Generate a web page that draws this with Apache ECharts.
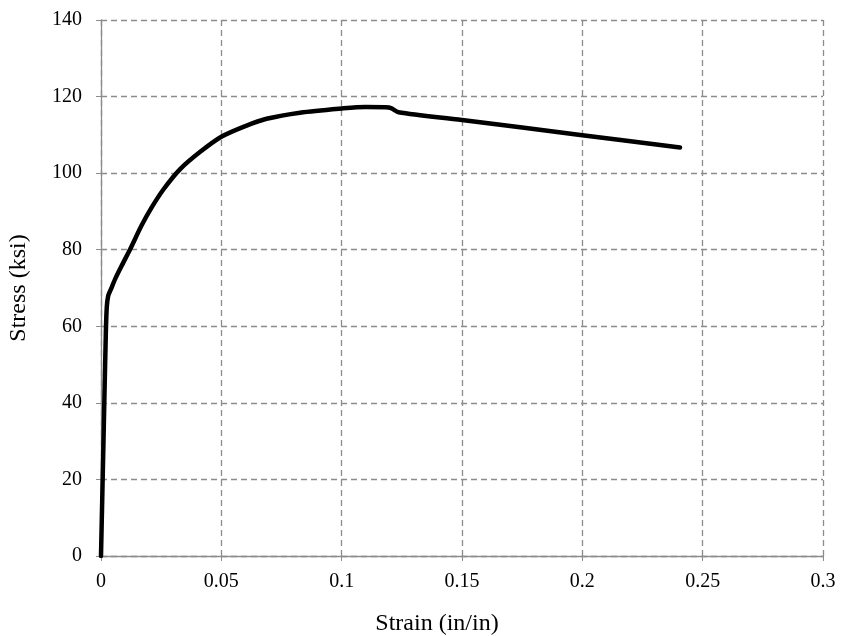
<!DOCTYPE html>
<html>
<head>
<meta charset="utf-8">
<title>Stress-Strain</title>
<script src="https://cdn.jsdelivr.net/npm/echarts@6/dist/echarts.min.js"></script>
<style>
	html, body { margin: 0; padding: 0; background: #fff; }
	#e_chart_1 { width: 841px; height: 636px; }
</style>
</head>
<body>
<div id="e_chart_1"></div>
<script>
/*Stress-strain curve*/
"use strict";

/*****Data start*****/
var strain = [0, 0.0010, 0.0020, 0.0024, 0.0030, 0.0040, 0.0060, 0.0090, 0.0120, 0.0170, 0.0210, 0.0260, 0.0328, 0.0411, 0.0500, 0.0600, 0.0688, 0.0827, 0.1000, 0.1100, 0.1180, 0.1205, 0.1236, 0.1500, 0.2000, 0.2406];
var stress = [0, 29, 58, 65, 68, 69.5, 72.5, 76.3, 80, 86.5, 91, 95.8, 101, 105.5, 109.5, 112.3, 114.2, 115.8, 116.9, 117.3, 117.2, 117.0, 115.9, 113.9, 109.9, 106.7];
var xTicks = [0, 0.05, 0.1, 0.15, 0.2, 0.25, 0.3];
var yTicks = [0, 20, 40, 60, 80, 100, 120, 140];
/*****Data end*****/

var fontFam = "'Liberation Serif', 'Times New Roman', serif";
var gridColor = '#8c8c8c';

var echartsConfig = function() {
	var eChart_1 = echarts.init(document.getElementById('e_chart_1'));
	var data = [];
	for (var i = 0; i < strain.length; i++) {
		data.push([strain[i], stress[i]]);
	}
	var option = {
		animation: false,
		grid: {
			left: 101,
			right: 18,
			top: 20,
			bottom: 80,
			outerBoundsMode: 'none'
		},
		xAxis: {
			type: 'value',
			min: xTicks[0],
			max: xTicks[xTicks.length - 1],
			interval: 0.05,
			name: 'Strain (in/in)',
			nameLocation: 'middle',
			nameGap: 56,
			nameTextStyle: { color: '#000', fontFamily: fontFam, fontSize: 24, padding: [0, 50, 0, 0] },
			axisLine: { lineStyle: { color: gridColor, width: 1.3 } },
			axisTick: { show: true, length: 5, lineStyle: { color: gridColor } },
			axisLabel: { color: '#000', fontFamily: fontFam, fontSize: 20, margin: 16 },
			splitLine: { show: true, lineStyle: { color: gridColor, type: [6, 4], width: 1.3 } }
		},
		yAxis: {
			type: 'value',
			min: yTicks[0],
			max: yTicks[yTicks.length - 1],
			interval: 20,
			name: 'Stress (ksi)',
			nameLocation: 'middle',
			nameGap: 70,
			nameTextStyle: { color: '#000', fontFamily: fontFam, fontSize: 24 },
			axisLine: { show: true, lineStyle: { color: gridColor, width: 1.3 } },
			axisTick: { show: true, length: 5, lineStyle: { color: gridColor } },
			axisLabel: { color: '#000', fontFamily: fontFam, fontSize: 20, margin: 19 },
			splitLine: { show: true, lineStyle: { color: gridColor, type: [6, 4], width: 1.3 } }
		},
		series: [
			{
				type: 'line',
				data: data,
				showSymbol: false,
				smooth: 0.3,
				lineStyle: { color: '#000', width: 4.5, cap: 'round', join: 'round' }
			}
		]
	};
	eChart_1.setOption(option);
};

echartsConfig();
</script>
</body>
</html>
